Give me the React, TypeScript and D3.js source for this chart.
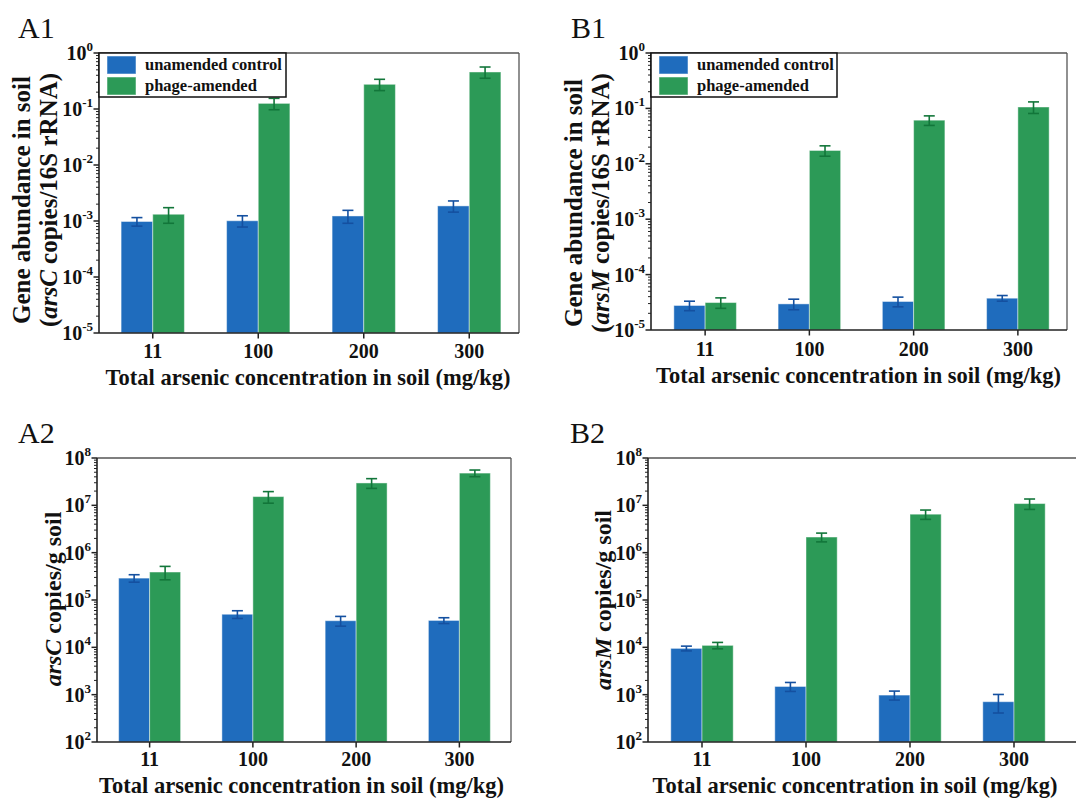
import React from 'react';
import * as d3 from 'd3';

const categories = ['11', '100', '200', '300'];
const seriesNames = ['unamended control', 'phage-amended'];

const a1Control = [0.00098, 0.00101, 0.00123, 0.00186];
const a1ControlErr = [0.00017, 0.00023, 0.00032, 0.00042];
const a1Phage = [0.00132, 0.126, 0.276, 0.458];
const a1PhageErr = [0.00041, 0.029, 0.063, 0.104];

const b1Control = [2.77e-5, 2.96e-5, 3.27e-5, 3.75e-5];
const b1ControlErr = [0.54e-5, 0.64e-5, 0.65e-5, 0.44e-5];
const b1Phage = [3.13e-5, 0.0174, 0.0613, 0.106];
const b1PhageErr = [0.67e-5, 0.0037, 0.012, 0.025];

const a2Control = [2.9e5, 5.0e4, 3.65e4, 3.7e4];
const a2ControlErr = [0.52e5, 0.93e4, 0.85e4, 0.52e4];
const a2Phage = [3.9e5, 1.53e7, 2.97e7, 4.8e7];
const a2PhageErr = [1.23e5, 0.42e7, 0.69e7, 0.77e7];

const b2Control = [9.5e3, 1.49e3, 980, 710];
const b2ControlErr = [1.1e3, 0.32e3, 0.21e3, 0.3e3];
const b2Phage = [1.1e4, 2.14e6, 6.5e6, 1.09e7];
const b2PhageErr = [1.7e3, 0.45e6, 1.45e6, 2.7e6];

const xTitle = 'Total arsenic concentration in soil (mg/kg)';

const BLUE = '#1f6cbd';
const GREEN = '#2c9a57';
const BLUE_ERR = '#1450a0';
const GREEN_ERR = '#12763a';
const FONT = '"Liberation Serif", "Times New Roman", Times, serif';

type Seg = { t: string; i?: boolean };

interface PanelProps {
  tag: string;
  tagX: number;
  tagY: number;
  left: number;
  right: number;
  top: number;
  bottom: number;
  xr: [number, number];
  expMin: number;
  expMax: number;
  control: number[];
  controlErr: number[];
  phage: number[];
  phageErr: number[];
  titleLines: Seg[][];
  titleXs: number[];
  titleFont: number;
  titleCy: number;
  legend: boolean;
  legendRight?: number;
  xTitleY: number;
  xTickY: number;
}

function Panel(p: PanelProps) {
  const y = d3.scaleLog().domain([Math.pow(10, p.expMin), Math.pow(10, p.expMax)]).range([p.bottom, p.top]);
  const x = d3.scaleBand<string>().domain(categories).range(p.xr).paddingInner(0).paddingOuter(0);
  const bw = x.bandwidth() * 0.3;
  const majors = d3.range(p.expMin, p.expMax + 1);
  const minors: number[] = [];
  for (let e = p.expMin; e < p.expMax; e++) {
    for (let k = 2; k <= 9; k++) minors.push(k * Math.pow(10, e));
  }
  const series = [
    { vals: p.control, errs: p.controlErr, color: BLUE, ecol: BLUE_ERR, off: -bw },
    { vals: p.phage, errs: p.phageErr, color: GREEN, ecol: GREEN_ERR, off: 0 },
  ];
  const cap = 5.5;
  return (
    <g fontFamily={FONT}>
      <text x={p.tagX} y={p.tagY} fontSize={30} fill="#111">{p.tag}</text>
      {/* bars */}
      {series.map((s, si) =>
        categories.map((c, i) => {
          const cx = (x(c) as number) + x.bandwidth() / 2;
          const yv = y(s.vals[i]);
          return (
            <rect key={`b${si}${i}`} x={cx + s.off} y={yv} width={bw} height={p.bottom - yv}
              fill={s.color} stroke="rgba(255,255,255,0.45)" strokeWidth={1} />
          );
        })
      )}
      {/* error bars */}
      {series.map((s, si) =>
        categories.map((c, i) => {
          const cx = (x(c) as number) + x.bandwidth() / 2 + s.off + bw / 2;
          const hi = y(s.vals[i] + s.errs[i]);
          const lo = y(Math.max(s.vals[i] - s.errs[i], Math.pow(10, p.expMin)));
          return (
            <g key={`e${si}${i}`} stroke={s.ecol} strokeWidth={1.6}>
              <line x1={cx} x2={cx} y1={hi} y2={lo} />
              <line x1={cx - cap} x2={cx + cap} y1={hi} y2={hi} />
              <line x1={cx - cap} x2={cx + cap} y1={lo} y2={lo} />
            </g>
          );
        })
      )}
      {/* frame */}
      <line x1={p.left} x2={p.right} y1={p.top} y2={p.top} stroke="#555" strokeWidth={1.3} />
      <line x1={p.right} x2={p.right} y1={p.top} y2={p.bottom} stroke="#555" strokeWidth={1.3} />
      <line x1={p.left} x2={p.left} y1={p.top} y2={p.bottom} stroke="#222" strokeWidth={1.6} />
      <line x1={p.left} x2={p.right} y1={p.bottom} y2={p.bottom} stroke="#222" strokeWidth={1.6} />
      {/* y ticks */}
      {minors.map((m, i) => (
        <line key={`m${i}`} x1={p.left - 3} x2={p.left} y1={y(m)} y2={y(m)} stroke="#222" strokeWidth={1} />
      ))}
      {majors.map((e) => (
        <g key={`M${e}`}>
          <line x1={p.left - 5.5} x2={p.left} y1={y(Math.pow(10, e))} y2={y(Math.pow(10, e))} stroke="#222" strokeWidth={1.5} />
          <text x={p.left - 6} y={y(Math.pow(10, e)) + 7} textAnchor="end" fontWeight="bold" fontSize={20} fill="#111">
            <tspan>10</tspan>
            <tspan fontSize={13} dy={-9}>{String(e)}</tspan>
          </text>
        </g>
      ))}
      {/* x ticks */}
      {categories.map((c) => {
        const cx = (x(c) as number) + x.bandwidth() / 2;
        return (
          <g key={`x${c}`}>
            <line x1={cx} x2={cx} y1={p.bottom} y2={p.bottom + 5.5} stroke="#222" strokeWidth={1.5} />
            <text x={cx} y={p.xTickY} textAnchor="middle" fontWeight="bold" fontSize={20} fill="#111">{c}</text>
          </g>
        );
      })}
      <text x={(p.xr[0] + p.xr[1]) / 2 - 3} y={p.xTitleY} textAnchor="middle" fontWeight="bold" fontSize={22.5} fill="#111">{xTitle}</text>
      {/* y title */}
      {p.titleLines.map((line, li) => (
        <text key={`t${li}`} transform={`translate(${p.titleXs[li]},${p.titleCy}) rotate(-90)`} textAnchor="middle"
          fontWeight="bold" fontSize={p.titleFont} fill="#111">
          {line.map((s, si) => (
            <tspan key={si} fontStyle={s.i ? 'italic' : 'normal'}>{s.t}</tspan>
          ))}
        </text>
      ))}
      {/* legend */}
      {p.legend && (
        <g>
          <rect x={p.left} y={p.top} width={(p.legendRight as number) - p.left} height={44} fill="#fff" stroke="#111" strokeWidth={1.5} />
          {seriesNames.map((n, i) => (
            <g key={n}>
              <rect x={p.left + 8} y={p.top + 3 + i * 21} width={29} height={18} fill={i === 0 ? BLUE : GREEN}
                stroke="rgba(255,255,255,0.5)" strokeWidth={1} />
              <text x={p.left + 46} y={p.top + 17 + i * 21} fontWeight="bold" fontSize={16.5} fill="#111">{n}</text>
            </g>
          ))}
        </g>
      )}
    </g>
  );
}

export default function App() {
  return (
    <svg width={1076} height={798} style={{ position: 'absolute', left: 0, top: 0, background: '#fff' }}>
      <rect x={0} y={0} width={1076} height={798} fill="#fff" />
      <Panel tag="A1" tagX={18} tagY={38} left={99} right={519} top={53} bottom={333} xr={[100, 522]}
        expMin={-5} expMax={0} control={a1Control} controlErr={a1ControlErr} phage={a1Phage} phageErr={a1PhageErr}
        titleLines={[[{ t: 'Gene abundance in soil' }], [{ t: '(' }, { t: 'arsC', i: true }, { t: ' copies/16S rRNA)' }]]}
        titleXs={[30, 57]} titleFont={25} titleCy={200} legend={true} legendRight={286} xTitleY={385} xTickY={358} />
      <Panel tag="B1" tagX={571} tagY={38} left={651} right={1067} top={53} bottom={330} xr={[653, 1070]}
        expMin={-5} expMax={0} control={b1Control} controlErr={b1ControlErr} phage={b1Phage} phageErr={b1PhageErr}
        titleLines={[[{ t: 'Gene abundance in soil' }], [{ t: '(' }, { t: 'arsM', i: true }, { t: ' copies/16S rRNA)' }]]}
        titleXs={[582, 609]} titleFont={25} titleCy={203} legend={true} legendRight={837} xTitleY={383} xTickY={356} />
      <Panel tag="A2" tagX={18} tagY={443} left={97} right={511} top={458} bottom={742} xr={[98, 511]}
        expMin={2} expMax={8} control={a2Control} controlErr={a2ControlErr} phage={a2Phage} phageErr={a2PhageErr}
        titleLines={[[{ t: 'arsC', i: true }, { t: ' copies/g soil' }]]}
        titleXs={[61]} titleFont={24} titleCy={599} legend={false} xTitleY={793} xTickY={766} />
      <Panel tag="B2" tagX={570} tagY={443} left={648} right={1090} top={458} bottom={742} xr={[650, 1066]}
        expMin={2} expMax={8} control={b2Control} controlErr={b2ControlErr} phage={b2Phage} phageErr={b2PhageErr}
        titleLines={[[{ t: 'arsM', i: true }, { t: ' copies/g soil' }]]}
        titleXs={[611]} titleFont={24} titleCy={600} legend={false} xTitleY={793} xTickY={766} />
    </svg>
  );
}
